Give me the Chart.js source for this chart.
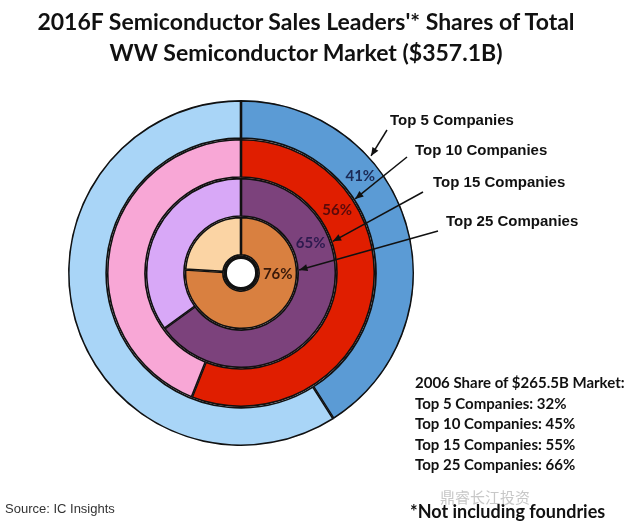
<!DOCTYPE html>
<html>
<head>
<meta charset="utf-8">
<script src="https://cdn.jsdelivr.net/npm/chart.js@4.4.1/dist/chart.umd.min.js"></script>
<style>
  body { margin: 0; background: #fff; }
  #wrap { position: relative; width: 640px; height: 532px; overflow: hidden; }
  #chart { position: absolute; left: 0; top: 0; }
  .t { position: absolute; white-space: nowrap; font-family: Lato, "Open Sans", sans-serif; font-weight: bold; color: #111; }
  #title { left: 0; width: 612px; top: 6px; text-align: center; font-size: 23px; line-height: 31px; }
  #note { left: 415px; top: 372px; font-size: 15px; line-height: 20.5px; }
  #foot { left: 410px; top: 500px; font-size: 18px; }
  #src { left: 5px; top: 501px; font-family: "Liberation Sans", Arial, sans-serif; font-weight: normal; font-size: 13px; color: #333; }
  #wm { left: 440px; top: 486px; font-family: "Noto Sans CJK SC", sans-serif; font-weight: normal; font-size: 15px; color: #c8c8c8; }
</style>
</head>
<body>
<div id="wrap">
  <canvas id="chart" width="640" height="532"></canvas>
  <div class="t" id="title">2016F Semiconductor Sales Leaders'* Shares of Total<br>WW Semiconductor Market ($357.1B)</div>
  <div class="t" id="note">2006 Share of $265.5B Market:<br>Top 5 Companies: 32%<br>Top 10 Companies: 45%<br>Top 15 Companies: 55%<br>Top 25 Companies: 66%</div>
  <div class="t" id="wm">鼎睿长江投资</div>
  <div class="t" id="foot">*Not including foundries</div>
  <div class="t" id="src">Source: IC Insights</div>
</div>
<script>
// 2016F shares of total market, outermost ring first
const groups = ['Top 5 Companies', 'Top 10 Companies', 'Top 15 Companies', 'Top 25 Companies'];
const shares = [41, 56, 65, 76];
const leaderColors = ['#5b9bd5', '#e01e00', '#7c427c', '#d98040'];
const restColors = ['#a9d5f7', '#f8a7d6', '#d8a8f7', '#fbd4a4'];
const labelColors = ['#1b2a55', '#5a0a0a', '#2e1a4f', '#3a1a0a'];

// angle (deg from top, clockwise) where each % label sits and where each arrow lands
const labelAngles = [51, 57, 67, 92];
const arrowAngles = [48, 57, 71, 87];
const arrowTails = [[387, 130], [407, 157], [423, 192], [438, 231]];
const callouts = [[390, 121], [415, 151], [433, 183], [446, 222]];

const datasets = shares.map((s, i) => ({
  label: groups[i],
  data: [s, 100 - s],
  backgroundColor: [leaderColors[i], restColors[i]],
  borderColor: '#111',
  borderWidth: 1.3,
  borderAlign: 'inner'
}));

function pointAt(cx, cy, r, deg) {
  const a = (deg - 90) * Math.PI / 180;
  return [cx + r * Math.cos(a), cy + r * Math.sin(a)];
}

const overlay = {
  id: 'overlay',
  afterDraw(chart) {
    const ctx = chart.ctx;
    ctx.save();
    let cx, cy, hole;
    shares.forEach((s, i) => {
      const arc = chart.getDatasetMeta(i).data[0];
      cx = arc.x; cy = arc.y;
      hole = arc.innerRadius;
      const mid = (arc.innerRadius + arc.outerRadius) / 2;
      const [lx, ly] = pointAt(cx, cy, mid, labelAngles[i]);
      ctx.font = 'bold 15px Lato, "Open Sans", sans-serif';
      ctx.fillStyle = labelColors[i];
      ctx.textAlign = 'center';
      ctx.textBaseline = 'middle';
      ctx.fillText(s + '%', lx, ly);

      // arrow from callout text to the ring edge
      const [tx, ty] = pointAt(cx, cy, arc.outerRadius + 2, arrowAngles[i]);
      const [fx, fy] = arrowTails[i];
      ctx.strokeStyle = '#111';
      ctx.fillStyle = '#111';
      ctx.lineWidth = 1.5;
      ctx.beginPath();
      ctx.moveTo(fx, fy);
      ctx.lineTo(tx, ty);
      ctx.stroke();
      const ang = Math.atan2(ty - fy, tx - fx);
      ctx.beginPath();
      ctx.moveTo(tx, ty);
      ctx.lineTo(tx - 9 * Math.cos(ang - 0.4), ty - 9 * Math.sin(ang - 0.4));
      ctx.lineTo(tx - 9 * Math.cos(ang + 0.4), ty - 9 * Math.sin(ang + 0.4));
      ctx.closePath();
      ctx.fill();

      ctx.font = 'bold 15px "Liberation Sans", Arial, sans-serif';
      ctx.fillStyle = '#111';
      ctx.textAlign = 'left';
      ctx.fillText(groups[i], callouts[i][0], callouts[i][1]);
    });
    // thick rim round the centre hole
    ctx.beginPath();
    ctx.arc(cx, cy, hole - 1.5, 0, Math.PI * 2);
    ctx.lineWidth = 3.5;
    ctx.strokeStyle = '#111';
    ctx.stroke();
    ctx.restore();
  }
};

new Chart('chart', {
  type: 'doughnut',
  data: { labels: ['Leaders', 'Others'], datasets: datasets },
  options: {
    responsive: false,
    animation: false,
    cutout: '10%',
    spacing: 0,
    layout: { padding: { left: 68, right: 226, top: 100, bottom: 86 } },
    plugins: {
      legend: { display: false },
      tooltip: { enabled: false }
    }
  },
  plugins: [overlay]
});
</script>
</body>
</html>
